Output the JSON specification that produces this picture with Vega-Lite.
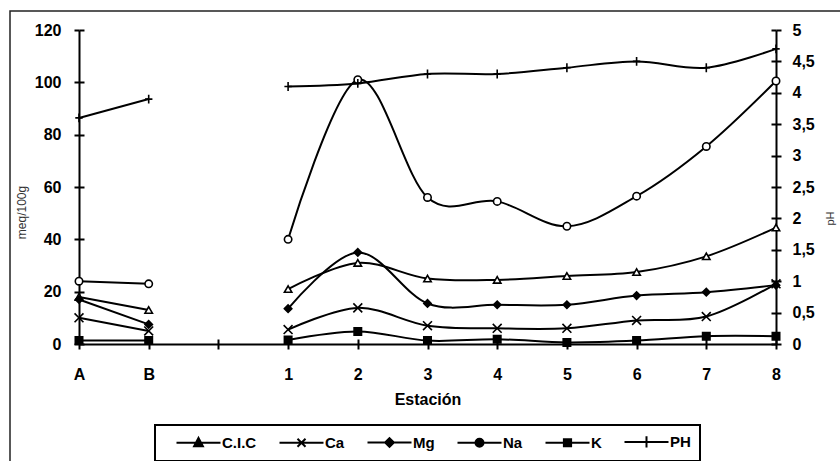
{
  "$schema": "https://vega.github.io/schema/vega-lite/v6.json",
  "autosize": {"type": "none"},
  "width": 830,
  "height": 450,
  "padding": {"left": 10, "top": 11, "right": 0, "bottom": 0},
  "background": "white",
  "config": {
    "font": "Liberation Sans",
    "view": {"stroke": "#222", "strokeWidth": 1.5, "strokeDash": [830, 1280, 450]},
    "axis": {"grid": false},
    "legend": {
      "orient": "none",
      "legendX": 145,
      "legendY": 414,
      "direction": "horizontal",
      "strokeColor": "black",
      "strokeWidth": 2,
      "fillColor": "white",
      "padding": 9,
      "symbolSize": 64,
      "symbolOffset": 27,
      "labelOffset": 16,
      "columnPadding": 10,
      "labelFontSize": 15,
      "labelFontWeight": "bold",
      "labelColor": "black",
      "symbolStrokeWidth": 2,
      "symbolOpacity": 1
    }
  },
  "data": {
    "values": [
      {"Estacion": "A", "Serie": "C.I.C", "Valor": 18, "Tramo": "AB"},
      {"Estacion": "B", "Serie": "C.I.C", "Valor": 13, "Tramo": "AB"},
      {"Estacion": "1", "Serie": "C.I.C", "Valor": 21, "Tramo": "18"},
      {"Estacion": "2", "Serie": "C.I.C", "Valor": 31, "Tramo": "18"},
      {"Estacion": "3", "Serie": "C.I.C", "Valor": 25, "Tramo": "18"},
      {"Estacion": "4", "Serie": "C.I.C", "Valor": 24.5, "Tramo": "18"},
      {"Estacion": "5", "Serie": "C.I.C", "Valor": 26, "Tramo": "18"},
      {"Estacion": "6", "Serie": "C.I.C", "Valor": 27.5, "Tramo": "18"},
      {"Estacion": "7", "Serie": "C.I.C", "Valor": 33.5, "Tramo": "18"},
      {"Estacion": "8", "Serie": "C.I.C", "Valor": 44.5, "Tramo": "18"},
      {"Estacion": "A", "Serie": "Ca", "Valor": 10, "Tramo": "AB"},
      {"Estacion": "B", "Serie": "Ca", "Valor": 5, "Tramo": "AB"},
      {"Estacion": "1", "Serie": "Ca", "Valor": 5.5, "Tramo": "18"},
      {"Estacion": "2", "Serie": "Ca", "Valor": 13.8, "Tramo": "18"},
      {"Estacion": "3", "Serie": "Ca", "Valor": 7, "Tramo": "18"},
      {"Estacion": "4", "Serie": "Ca", "Valor": 6, "Tramo": "18"},
      {"Estacion": "5", "Serie": "Ca", "Valor": 6, "Tramo": "18"},
      {"Estacion": "6", "Serie": "Ca", "Valor": 9, "Tramo": "18"},
      {"Estacion": "7", "Serie": "Ca", "Valor": 10.5, "Tramo": "18"},
      {"Estacion": "8", "Serie": "Ca", "Valor": 23, "Tramo": "18"},
      {"Estacion": "A", "Serie": "Mg", "Valor": 17, "Tramo": "AB"},
      {"Estacion": "B", "Serie": "Mg", "Valor": 7.5, "Tramo": "AB"},
      {"Estacion": "1", "Serie": "Mg", "Valor": 13.5, "Tramo": "18"},
      {"Estacion": "2", "Serie": "Mg", "Valor": 35, "Tramo": "18"},
      {"Estacion": "3", "Serie": "Mg", "Valor": 15.5, "Tramo": "18"},
      {"Estacion": "4", "Serie": "Mg", "Valor": 15, "Tramo": "18"},
      {"Estacion": "5", "Serie": "Mg", "Valor": 15, "Tramo": "18"},
      {"Estacion": "6", "Serie": "Mg", "Valor": 18.5, "Tramo": "18"},
      {"Estacion": "7", "Serie": "Mg", "Valor": 19.8, "Tramo": "18"},
      {"Estacion": "8", "Serie": "Mg", "Valor": 22.5, "Tramo": "18"},
      {"Estacion": "A", "Serie": "Na", "Valor": 24, "Tramo": "AB"},
      {"Estacion": "B", "Serie": "Na", "Valor": 23, "Tramo": "AB"},
      {"Estacion": "1", "Serie": "Na", "Valor": 40, "Tramo": "18"},
      {"Estacion": "2", "Serie": "Na", "Valor": 101, "Tramo": "18"},
      {"Estacion": "3", "Serie": "Na", "Valor": 56, "Tramo": "18"},
      {"Estacion": "4", "Serie": "Na", "Valor": 54.5, "Tramo": "18"},
      {"Estacion": "5", "Serie": "Na", "Valor": 45, "Tramo": "18"},
      {"Estacion": "6", "Serie": "Na", "Valor": 56.5, "Tramo": "18"},
      {"Estacion": "7", "Serie": "Na", "Valor": 75.5, "Tramo": "18"},
      {"Estacion": "8", "Serie": "Na", "Valor": 100.5, "Tramo": "18"},
      {"Estacion": "A", "Serie": "K", "Valor": 1.3, "Tramo": "AB"},
      {"Estacion": "B", "Serie": "K", "Valor": 1.3, "Tramo": "AB"},
      {"Estacion": "1", "Serie": "K", "Valor": 1.5, "Tramo": "18"},
      {"Estacion": "2", "Serie": "K", "Valor": 4.8, "Tramo": "18"},
      {"Estacion": "3", "Serie": "K", "Valor": 1.3, "Tramo": "18"},
      {"Estacion": "4", "Serie": "K", "Valor": 1.8, "Tramo": "18"},
      {"Estacion": "5", "Serie": "K", "Valor": 0.6, "Tramo": "18"},
      {"Estacion": "6", "Serie": "K", "Valor": 1.3, "Tramo": "18"},
      {"Estacion": "7", "Serie": "K", "Valor": 3, "Tramo": "18"},
      {"Estacion": "8", "Serie": "K", "Valor": 3, "Tramo": "18"},
      {"Estacion": "A", "Serie": "PH", "Valor": 3.6, "Tramo": "AB"},
      {"Estacion": "B", "Serie": "PH", "Valor": 3.9, "Tramo": "AB"},
      {"Estacion": "1", "Serie": "PH", "Valor": 4.1, "Tramo": "18"},
      {"Estacion": "2", "Serie": "PH", "Valor": 4.15, "Tramo": "18"},
      {"Estacion": "3", "Serie": "PH", "Valor": 4.3, "Tramo": "18"},
      {"Estacion": "4", "Serie": "PH", "Valor": 4.3, "Tramo": "18"},
      {"Estacion": "5", "Serie": "PH", "Valor": 4.4, "Tramo": "18"},
      {"Estacion": "6", "Serie": "PH", "Valor": 4.5, "Tramo": "18"},
      {"Estacion": "7", "Serie": "PH", "Valor": 4.4, "Tramo": "18"},
      {"Estacion": "8", "Serie": "PH", "Valor": 4.7, "Tramo": "18"}
    ]
  },
  "layer": [
    {
      "mark": {"type": "point", "filled": true, "fill": "black", "stroke": "black", "strokeWidth": 2, "opacity": 0},
      "encoding": {
        "x": {
          "field": "Estacion", "type": "ordinal",
          "scale": {"type": "point", "domain": ["A", "B", " ", "1", "2", "3", "4", "5", "6", "7", "8"], "range": [69, 766], "padding": 0},
          "axis": null
        },
        "y": {
          "field": "Valor", "type": "quantitative",
          "scale": {"domain": [0, 120], "range": [333, 19], "nice": false},
          "axis": null
        },
        "shape": {
          "field": "Serie", "type": "nominal",
          "scale": {"domain": ["C.I.C", "Ca", "Mg", "Na", "K", "PH"], "range": [
            "M-5.5,0H5.5M0,-1.2L1.1,0.9H-1.1Z",
            "M-5.5,0H5.5M-1,-1L1,1M-1,1L1,-1",
            "M-5.5,0H5.5M0,-1.1L1.1,0L0,1.1L-1.1,0Z",
            "M-5.5,0H5.5M1,0A1,1,0,1,1,-1,0A1,1,0,1,1,1,0ZM0.35,0A0.35,0.35,0,1,0,-0.35,0A0.35,0.35,0,1,0,0.35,0Z",
            "M-5.5,0H5.5M-0.9,-0.9H0.9V0.9H-0.9Z",
            "M-5.5,0H5.5M0,-1.4V1.4"
          ]},
          "legend": {"title": null}
        }
      }
    },
    {
      "transform": [{"filter": "datum.Serie !== 'PH'"}],
      "mark": {"type": "line", "interpolate": "cardinal", "stroke": "black", "strokeWidth": 2},
      "encoding": {
        "x": {
          "field": "Estacion", "type": "ordinal",
          "scale": {"type": "point", "domain": ["A", "B", " ", "1", "2", "3", "4", "5", "6", "7", "8"], "range": [69, 766], "padding": 0},
          "axis": {"orient": "bottom", "offset": -117, "domainColor": "black", "domainWidth": 2, "tickColor": "black", "tickWidth": 2, "tickSize": 5, "labelFontSize": 16, "labelFontWeight": "bold", "labelColor": "black", "labelPadding": 17, "labelAngle": 0, "title": "Estación", "titleFontSize": 16, "titleFontWeight": "bold", "titleColor": "black", "titleY": 60, "titleBaseline": "alphabetic"}
        },
        "y": {
          "field": "Valor", "type": "quantitative",
          "scale": {"domain": [0, 120], "range": [333, 19], "nice": false},
          "axis": {"orient": "left", "offset": -69, "values": [0, 20, 40, 60, 80, 100, 120], "domainColor": "black", "domainWidth": 2, "tickColor": "black", "tickWidth": 2, "tickSize": 5, "labelFontSize": 16, "labelFontWeight": "bold", "labelColor": "black", "labelPadding": 13, "title": "meq/100g", "titleFontSize": 12, "titleFontWeight": "normal", "titleColor": "#333", "titleAngle": 270, "titleX": -54, "titleY": 201, "titleAlign": "center", "titleBaseline": "alphabetic"}
        },
        "detail": [{"field": "Serie"}, {"field": "Tramo"}]
      }
    },
    {
      "transform": [{"filter": "datum.Serie !== 'PH'"}],
      "mark": {"type": "point", "filled": true, "stroke": "black", "strokeWidth": 1.6, "size": 55, "opacity": 1},
      "encoding": {
        "x": {
          "field": "Estacion", "type": "ordinal",
          "scale": {"type": "point", "domain": ["A", "B", " ", "1", "2", "3", "4", "5", "6", "7", "8"], "range": [69, 766], "padding": 0},
          "axis": {"orient": "bottom", "offset": -122, "domain": false, "labels": false, "title": null, "tickSize": 5, "tickWidth": 2, "tickColor": "black"}
        },
        "y": {
          "field": "Valor", "type": "quantitative",
          "scale": {"domain": [0, 120], "range": [333, 19], "nice": false},
          "axis": {"orient": "left", "offset": -74, "values": [0, 20, 40, 60, 80, 100, 120], "domain": false, "labels": false, "title": null, "tickSize": 5, "tickWidth": 2, "tickColor": "black"}
        },
        "shape": {
          "field": "Serie", "type": "nominal",
          "scale": {"domain": ["C.I.C", "Ca", "Mg", "Na", "K", "PH"], "range": ["triangle-up", "M-1.2,-1.2L1.2,1.2M-1.2,1.2L1.2,-1.2", "diamond", "circle", "square", "M-1,0H1M0,-1.2V1.2"]},
          "legend": null
        },
        "fill": {
          "field": "Serie", "type": "nominal",
          "scale": {"domain": ["C.I.C", "Ca", "Mg", "Na", "K", "PH"], "range": ["white", "black", "black", "white", "black", "black"]},
          "legend": null
        }
      }
    },
    {
      "transform": [{"filter": "datum.Serie === 'PH'"}],
      "mark": {"type": "line", "interpolate": "cardinal", "stroke": "black", "strokeWidth": 2},
      "encoding": {
        "x": {
          "field": "Estacion", "type": "ordinal",
          "scale": {"type": "point", "domain": ["A", "B", " ", "1", "2", "3", "4", "5", "6", "7", "8"], "range": [69, 766], "padding": 0},
          "axis": null
        },
        "y": {
          "field": "Valor", "type": "quantitative",
          "scale": {"domain": [0, 5], "range": [333, 19], "nice": false},
          "axis": {"orient": "right", "offset": -64, "values": [0, 0.5, 1, 1.5, 2, 2.5, 3, 3.5, 4, 4.5, 5], "labelExpr": "replace(toString(datum.value), '.', ',')", "domainColor": "black", "domainWidth": 2, "tickColor": "black", "tickWidth": 2, "tickSize": 5, "labelFontSize": 16, "labelFontWeight": "bold", "labelColor": "black", "labelPadding": 11, "title": "pH", "titleFontSize": 11, "titleFontWeight": "normal", "titleColor": "#333", "titleAngle": 270, "titleX": 57, "titleY": 207, "titleAlign": "center", "titleBaseline": "alphabetic"}
        },
        "detail": {"field": "Tramo"}
      }
    },
    {
      "transform": [{"filter": "datum.Serie === 'PH'"}],
      "mark": {"type": "point", "filled": true, "stroke": "black", "strokeWidth": 1.6, "size": 55, "opacity": 1},
      "encoding": {
        "x": {
          "field": "Estacion", "type": "ordinal",
          "scale": {"type": "point", "domain": ["A", "B", " ", "1", "2", "3", "4", "5", "6", "7", "8"], "range": [69, 766], "padding": 0},
          "axis": null
        },
        "y": {
          "field": "Valor", "type": "quantitative",
          "scale": {"domain": [0, 5], "range": [333, 19], "nice": false},
          "axis": {"orient": "right", "offset": -69, "values": [0, 0.5, 1, 1.5, 2, 2.5, 3, 3.5, 4, 4.5, 5], "domain": false, "labels": false, "title": null, "tickSize": 5, "tickWidth": 2, "tickColor": "black"}
        },
        "shape": {
          "field": "Serie", "type": "nominal",
          "scale": {"domain": ["C.I.C", "Ca", "Mg", "Na", "K", "PH"], "range": ["triangle-up", "M-1.2,-1.2L1.2,1.2M-1.2,1.2L1.2,-1.2", "diamond", "circle", "square", "M-1,0H1M0,-1.2V1.2"]},
          "legend": null
        },
        "fill": {
          "field": "Serie", "type": "nominal",
          "scale": {"domain": ["C.I.C", "Ca", "Mg", "Na", "K", "PH"], "range": ["white", "black", "black", "white", "black", "black"]},
          "legend": null
        }
      }
    }
  ],
  "resolve": {"scale": {"y": "independent", "shape": "independent"}, "axis": {"x": "independent", "y": "independent"}}
}
